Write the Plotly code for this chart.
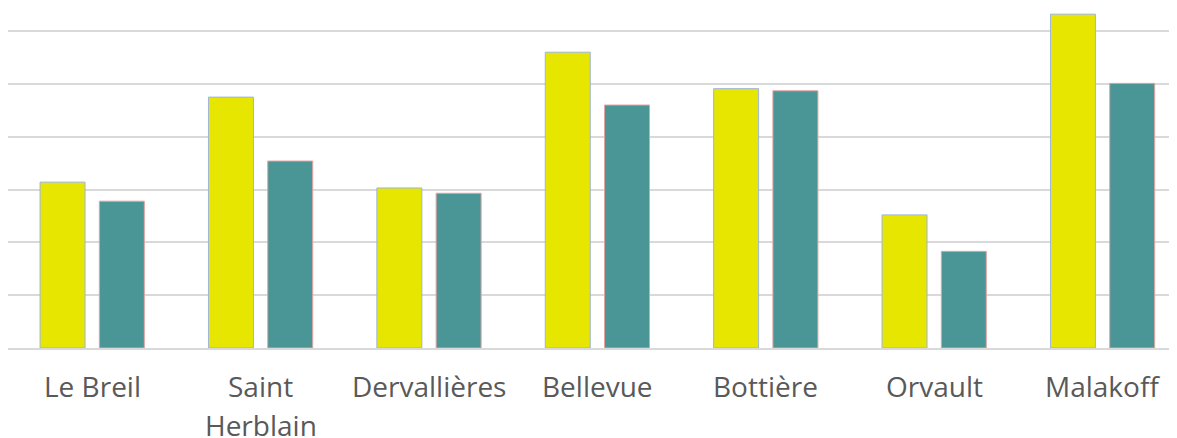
import plotly.graph_objects as go

categories = ["Le Breil", "Saint Herblain", "Dervallières", "Bellevue", "Bottière", "Orvault", "Malakoff"]
label_lines = [["Le Breil"], ["Saint", "Herblain"], ["Dervallières"], ["Bellevue"], ["Bottière"], ["Orvault"], ["Malakoff"]]
series_a = [3.14, 4.75, 3.03, 5.60, 4.91, 2.52, 6.32]
series_b = [2.78, 3.54, 2.93, 4.60, 4.87, 1.83, 5.01]

YELLOW = "#E6E600"
TEAL = "#4A9696"
GRID = "#D9D9D9"
TEXT = "#595959"
FONT = "Open Sans"

fig = go.Figure()
fig.add_trace(go.Bar(x=categories, y=series_a, marker=dict(color=YELLOW, line=dict(color="#9DB4DA", width=1))))
fig.add_trace(go.Bar(x=categories, y=series_b, marker=dict(color=TEAL, line=dict(color="#E4A3A3", width=1))))

annotations = []
for cat, lines in zip(categories, label_lines):
    for i, line in enumerate(lines):
        annotations.append(dict(
            x=cat, xref="x", y=0, yref="paper", text=line, showarrow=False,
            yanchor="middle", xanchor="center", yshift=-38 - 39 * i,
            font=dict(family=FONT, size=28, color=TEXT)))

fig.update_layout(
    width=1169, height=430,
    margin=dict(l=0, r=0, t=0, b=89.5, pad=0),
    paper_bgcolor="white", plot_bgcolor="white",
    showlegend=False,
    barmode="group", bargap=0.296, bargroupgap=0.241,
    annotations=annotations,
    xaxis=dict(range=[-0.5, 6.442], showticklabels=False, showgrid=False,
               showline=True, linecolor=GRID, linewidth=2, ticks="", zeroline=False),
    yaxis=dict(range=[0, 6.437], dtick=1, showticklabels=False, showgrid=True,
               gridcolor=GRID, gridwidth=2, zeroline=False, ticks=""),
)

fig.write_html("out.html")
